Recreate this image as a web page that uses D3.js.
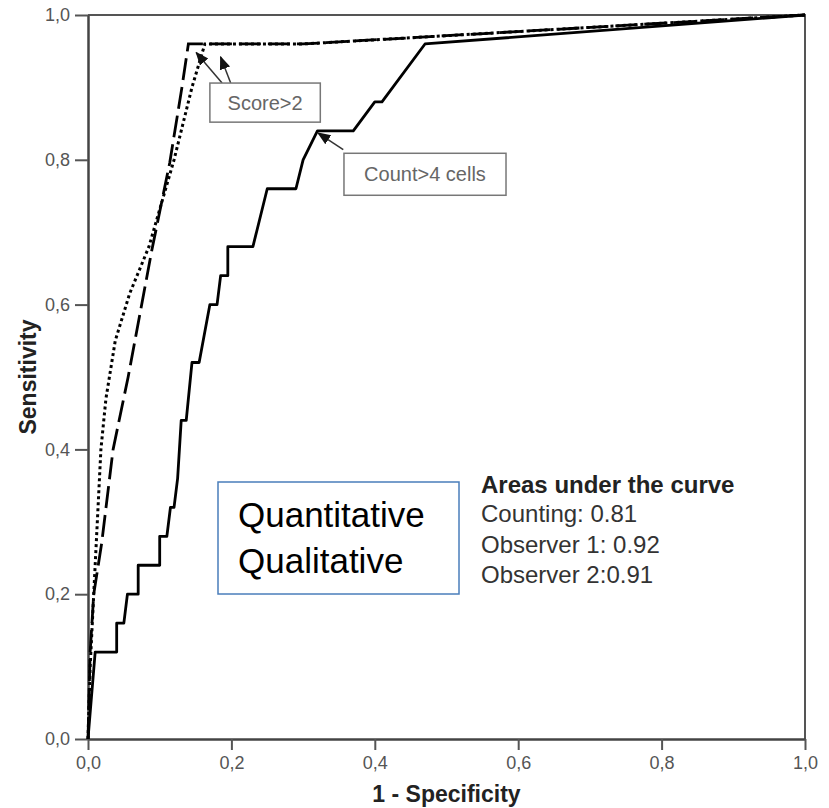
<!DOCTYPE html>
<html>
<head>
<meta charset="utf-8">
<script src="https://cdn.jsdelivr.net/npm/d3@7.9.0/dist/d3.min.js"></script>
<style>
  body { margin: 0; background: #fff; }
  svg { display: block; font-family: Arial, "Liberation Sans", sans-serif; }
</style>
</head>
<body>
<svg width="829" height="808"></svg>
<script>
// ROC curves: [1 - specificity, sensitivity]
const counting = [
  [0, 0], [0.01, 0.12], [0.04, 0.12], [0.04, 0.16], [0.05, 0.16], [0.055, 0.20],
  [0.07, 0.20], [0.07, 0.24], [0.10, 0.24], [0.10, 0.28], [0.11, 0.28], [0.115, 0.32],
  [0.12, 0.32], [0.125, 0.36], [0.13, 0.44], [0.137, 0.44], [0.145, 0.52], [0.155, 0.52],
  [0.17, 0.60], [0.18, 0.60], [0.185, 0.64], [0.195, 0.64], [0.195, 0.68], [0.23, 0.68],
  [0.25, 0.76], [0.29, 0.76], [0.30, 0.80], [0.32, 0.84], [0.37, 0.84], [0.40, 0.88],
  [0.41, 0.88], [0.47, 0.96], [1, 1]
];
const observer1 = [
  [0, 0], [0.003, 0.12], [0.008, 0.20], [0.019, 0.27], [0.035, 0.40], [0.056, 0.50],
  [0.089, 0.675], [0.114, 0.796], [0.131, 0.90], [0.14, 0.96], [0.30, 0.96], [1, 1]
];
const observer2 = [
  [0, 0], [0.003, 0.10], [0.008, 0.20], [0.013, 0.30], [0.018, 0.40], [0.025, 0.47],
  [0.038, 0.55], [0.058, 0.615], [0.085, 0.68], [0.12, 0.80], [0.145, 0.90], [0.163, 0.96],
  [0.30, 0.96], [1, 1]
];
const tickValues = [0, 0.2, 0.4, 0.6, 0.8, 1.0];
const aucLines = ['Counting: 0.81', 'Observer 1: 0.92', 'Observer 2:0.91'];
const methodLines = ['Quantitative', 'Qualitative'];

const svg = d3.select('svg');
const x = d3.scaleLinear().domain([0, 1]).range([88, 805]);
const y = d3.scaleLinear().domain([0, 1]).range([739, 15]);
const fmt = d => d3.format('.1f')(d).replace('.', ',');

// frame (top and right)
svg.append('path')
  .attr('d', `M${x(0)},${y(1)}H${x(1)}V${y(0)}`)
  .attr('fill', 'none').attr('stroke', '#555').attr('stroke-width', 2);

// axes
const xAxis = svg.append('g').attr('transform', `translate(0,${y(0)})`)
  .call(d3.axisBottom(x).tickValues(tickValues).tickFormat(fmt).tickSize(11).tickSizeOuter(0).tickPadding(6));
const yAxis = svg.append('g').attr('transform', `translate(${x(0)},0)`)
  .call(d3.axisLeft(y).tickValues(tickValues).tickFormat(fmt).tickSize(13).tickSizeOuter(0).tickPadding(5));
[xAxis, yAxis].forEach(g => {
  g.select('.domain').attr('stroke', '#444').attr('stroke-width', 2.5);
  g.selectAll('.tick line').attr('stroke', '#555').attr('stroke-width', 2);
  g.selectAll('.tick text').attr('fill', '#555').style('font-size', '18px')
    .style('font-family', 'Arial, "Liberation Sans", sans-serif');
});

// axis titles
svg.append('text').attr('x', x(0.5)).attr('y', 802).attr('text-anchor', 'middle')
  .style('font-size', '23px').style('font-weight', 'bold').attr('fill', '#222')
  .text('1 - Specificity');
svg.append('text').attr('transform', `translate(36,${y(0.5)}) rotate(-90)`)
  .attr('text-anchor', 'middle')
  .style('font-size', '23px').style('font-weight', 'bold').attr('fill', '#222')
  .text('Sensitivity');

// curves
const line = d3.line().x(d => x(d[0])).y(d => y(d[1]));
svg.append('path').datum(observer2).attr('d', line)
  .attr('fill', 'none').attr('stroke', '#000').attr('stroke-width', 3)
  .attr('stroke-dasharray', '3,3');
svg.append('path').datum(observer1).attr('d', line)
  .attr('fill', 'none').attr('stroke', '#000').attr('stroke-width', 2.8)
  .attr('stroke-dasharray', '22,7');
svg.append('path').datum(counting).attr('d', line)
  .attr('fill', 'none').attr('stroke', '#000').attr('stroke-width', 2.8)
  .attr('stroke-linejoin', 'round');

// annotation arrows
svg.append('defs').append('marker')
  .attr('id', 'arrow').attr('viewBox', '0 0 10 10').attr('refX', 9).attr('refY', 5)
  .attr('markerWidth', 9).attr('markerHeight', 9).attr('orient', 'auto')
  .append('path').attr('d', 'M0,1L10,5L0,9Z').attr('fill', '#111');

const arrows = [
  [[0.187, 0.906], [0.151, 0.948]],
  [[0.199, 0.906], [0.185, 0.942]],
  [[0.356, 0.814], [0.321, 0.837]]
];
arrows.forEach(a => {
  svg.append('line')
    .attr('x1', x(a[0][0])).attr('y1', y(a[0][1]))
    .attr('x2', x(a[1][0])).attr('y2', y(a[1][1]))
    .attr('stroke', '#333').attr('stroke-width', 1.5)
    .attr('marker-end', 'url(#arrow)');
});

// label boxes: [x0, y0, x1, y1] in data units
const labels = [
  { text: 'Score>2', box: [0.170, 0.906, 0.324, 0.852] },
  { text: 'Count>4 cells', box: [0.357, 0.809, 0.583, 0.751] }
];
labels.forEach(l => {
  const [x0, y0, x1, y1] = l.box;
  svg.append('rect')
    .attr('x', x(x0)).attr('y', y(y0))
    .attr('width', x(x1) - x(x0)).attr('height', y(y1) - y(y0))
    .attr('fill', '#fff').attr('stroke', '#777').attr('stroke-width', 1.5);
  svg.append('text')
    .attr('x', (x(x0) + x(x1)) / 2).attr('y', (y(y0) + y(y1)) / 2 + 7)
    .attr('text-anchor', 'middle').attr('fill', '#666')
    .style('font-size', '20px').text(l.text);
});

// Quantitative / Qualitative box
svg.append('rect').attr('x', 218).attr('y', 482).attr('width', 241).attr('height', 112)
  .attr('fill', '#fff').attr('stroke', '#4a7ebb').attr('stroke-width', 1.5);
svg.selectAll('.method').data(methodLines).join('text')
  .attr('class', 'method')
  .attr('x', 238).attr('y', (d, i) => 527 + i * 46)
  .attr('fill', '#000').style('font-size', '35px')
  .text(d => d);

// AUC legend
svg.append('text').attr('x', 481).attr('y', 493)
  .attr('fill', '#222').style('font-size', '24px').style('font-weight', 'bold')
  .text('Areas under the curve');
svg.selectAll('.auc').data(aucLines).join('text')
  .attr('class', 'auc')
  .attr('x', 481).attr('y', (d, i) => 522 + i * 30.5)
  .attr('fill', '#333').style('font-size', '24px')
  .text(d => d);
</script>
</body>
</html>
